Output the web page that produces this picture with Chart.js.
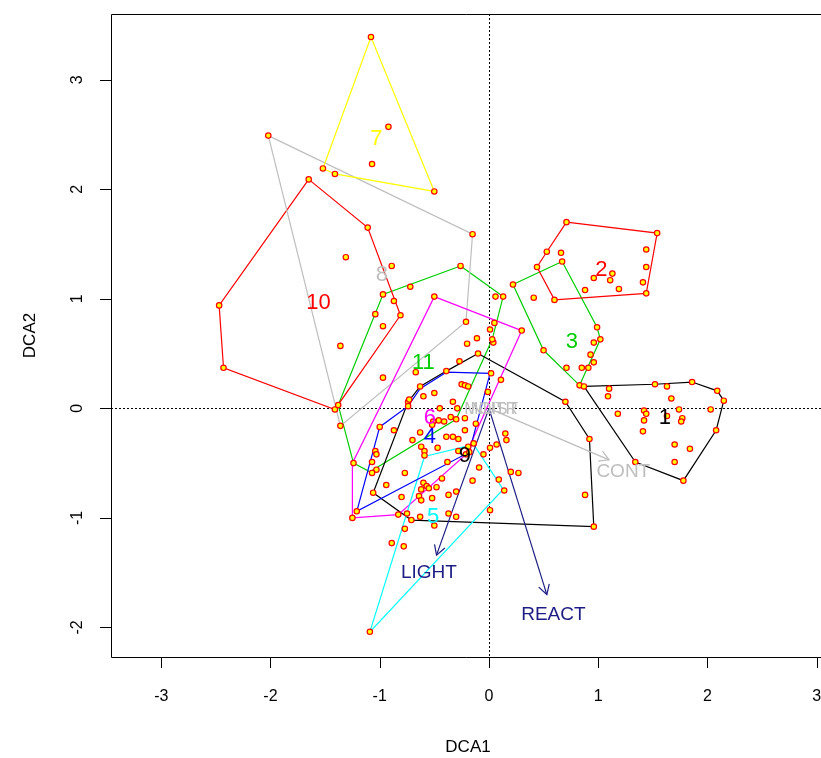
<!DOCTYPE html>
<html>
<head>
<meta charset="utf-8">
<script src="https://cdn.jsdelivr.net/npm/chart.js@4.4.1/dist/chart.umd.min.js"></script>
<style>
  html, body { margin: 0; padding: 0; background: #fff; overflow: hidden; }
</style>
</head>
<body>
<canvas id="dca" width="821" height="758"></canvas>
<script>
// --- DCA ordination: site scores, group hulls, env arrows ---

const xTicks = [-3, -2, -1, 0, 1, 2, 3];
const yTicks = [-2, -1, 0, 1, 2, 3];

// site scores (DCA1, DCA2)
const sites = [
  [-1.08,3.39],[-0.50,1.98],[-1.52,2.19],[-1.41,2.14],[-0.92,2.57],[-1.07,2.23],
  [-2.02,2.49],[-0.15,1.59],[-0.21,0.79],[-1.36,-0.16],
  [-1.65,2.09],[-1.11,1.65],[-0.81,0.85],[-1.41,-0.01],[-2.43,0.37],[-2.47,0.94],
  [-1.31,1.38],[-0.89,1.30],[-0.87,0.98],[-1.04,0.86],[-0.97,0.75],[-1.36,0.57],
  [-0.97,1.04],[-0.72,1.11],[-0.26,1.30],[0.13,1.02],
  [0.71,1.70],[1.54,1.60],[1.44,1.05],[0.60,0.99],[0.44,1.29],[0.53,1.43],[0.66,1.42],
  [1.44,1.45],[1.44,1.29],[1.41,1.15],[1.13,1.23],[1.11,1.17],[0.96,1.19],[1.19,1.09],[0.88,1.08],
  [0.67,1.34],[0.22,1.13],[0.50,0.53],[0.83,0.21],[1.02,0.63],[0.99,0.74],[0.41,1.01],
  [0.96,0.60],[0.93,0.49],[0.96,0.42],[0.91,0.37],[0.85,0.37],[0.71,0.37],
  [0.87,0.20],[1.52,0.22],[1.86,0.24],[2.09,0.16],[2.15,0.07],[2.08,-0.20],[1.78,-0.66],[1.34,-0.49],
  [1.10,0.18],[1.09,0.11],[1.63,0.20],[1.67,0.09],[1.18,-0.05],[1.42,-0.02],[1.44,-0.05],
  [1.42,-0.11],[1.41,-0.21],[1.74,-0.01],[2.03,-0.01],[1.63,-0.07],[1.77,-0.09],[1.76,-0.12],
  [1.70,-0.33],[1.84,-0.37],[1.70,-0.49],
  [-0.10,0.50],[0.70,0.06],[0.92,-0.28],[0.96,-1.08],[-0.71,-1.02],[-1.06,-0.77],
  [-0.74,0.06],[-0.63,0.20],[-0.39,0.34],[0.88,-0.79],
  [-0.67,0.33],[-0.97,0.28],[-0.11,0.64],[-0.20,0.59],[0.04,0.60],[-0.27,0.43],[0.02,0.32],
  [0.11,0.26],[-0.25,0.22],[-0.22,0.21],[-0.19,0.20],[-0.01,0.15],[-0.50,0.14],[-0.60,0.11],
  [-0.73,0.08],[-0.33,0.06],[-0.45,0.00],[-0.29,0.00],[-0.35,-0.08],[-0.30,-0.10],[-0.46,-0.11],
  [-0.41,-0.12],[-0.51,-0.12],[-0.22,-0.09],[-0.12,-0.14],[-0.22,-0.20],[-1.00,-0.17],[-0.87,-0.20],
  [-0.63,-0.22],[-0.52,-0.15],[-0.70,-0.29],[-0.62,-0.35],[-0.39,-0.26],[-0.33,-0.26],[-0.28,-0.28],
  [-0.47,-0.36],[0.15,-0.23],[0.16,-0.29],[0.01,-0.36],[0.07,-0.33],[-0.14,-0.32],[-0.59,-0.39],
  [-0.59,-0.43],[-1.04,-0.39],[-1.03,-0.42],[-1.07,-0.49],[-1.24,-0.50],[-1.03,-0.56],[-1.07,-0.59],
  [-0.77,-0.59],[-0.38,-0.49],[-0.28,-0.39],[-0.05,-0.42],[-0.09,-0.54],[0.20,-0.58],[0.27,-0.59],
  [-0.43,-0.64],[-0.15,-0.66],[0.09,-0.65],[0.14,-0.75],[-0.94,-0.70],[-0.60,-0.68],[-0.57,-0.71],
  [-0.62,-0.74],[-0.55,-0.73],[-0.48,-0.72],[-0.64,-0.80],[-0.62,-0.84],[-0.52,-0.82],[-0.37,-0.79],
  [-0.30,-0.76],[-0.80,-0.81],[-1.21,-0.94],[-1.25,-1.00],[-0.75,-0.96],[-0.63,-0.99],[-0.50,-1.07],
  [-0.37,-0.96],[-0.30,-0.99],[0.01,-0.93],[-0.77,-1.10],[-0.89,-1.23],[-0.78,-1.26],[-1.09,-2.04],
  [-0.83,-0.97],[-0.50,1.02],[0.30,0.71],[0.06,1.02],[0.05,0.78],[0.01,0.72],[-0.19,-0.35],
  [-1.38,0.03],[-0.74,0.02],[-0.21,-0.42],[-0.18,-0.40],[0.03,0.63]
];

// convex hull vertices per group
const hull1  = [[0.87,0.20],[1.52,0.22],[1.86,0.24],[2.09,0.16],[2.15,0.07],[2.08,-0.20],[1.78,-0.66],[1.34,-0.49]];
const hull2  = [[0.71,1.70],[1.54,1.60],[1.44,1.05],[0.60,0.99],[0.44,1.29],[0.53,1.43]];
const hull3  = [[0.67,1.34],[0.99,0.74],[1.02,0.63],[0.83,0.21],[0.50,0.53],[0.22,1.13]];
const hull4  = [[-0.39,0.33],[0.01,0.32],[-0.18,-0.40],[-1.21,-0.94],[-1.00,-0.17],[-0.74,0.02],[-0.63,0.18]];
const hull5  = [[-0.59,-0.44],[-0.14,-0.33],[0.13,-0.74],[-1.09,-2.04]];
const hull6  = [[-0.50,1.02],[0.30,0.71],[-0.21,-0.42],[-0.83,-0.97],[-1.25,-1.00],[-1.25,-0.50]];
const hull7  = [[-1.08,3.39],[-0.50,1.98],[-1.41,2.14],[-1.52,2.19]];
const hull8  = [[-2.02,2.49],[-0.15,1.59],[-0.21,0.79],[-1.36,-0.16]];
const hull9  = [[-0.10,0.50],[0.70,0.06],[0.92,-0.28],[0.96,-1.08],[-0.71,-1.02],[-1.06,-0.77],[-0.74,0.06],[-0.63,0.20],[-0.39,0.34]];
const hull10 = [[-1.65,2.09],[-1.11,1.65],[-0.81,0.85],[-1.41,-0.01],[-2.43,0.37],[-2.47,0.94]];
const hull11 = [[-0.26,1.30],[0.13,1.02],[0.03,0.63],[-0.30,-0.10],[-1.09,-0.58],[-1.24,-0.50],[-1.38,0.03],[-0.97,1.04]];

const groupNames  = ['1','2','3','4','5','6','7','8','9','10','11'];
const groupColors = ['#000000','#ff0000','#00cd00','#0000ff','#00ffff','#ff00ff','#ffff00','#bebebe','#000000','#ff0000','#00cd00'];
const groupLabelX = [1.61, 1.03, 0.76, -0.54, -0.51, -0.54, -1.03, -0.98, -0.22, -1.56, -0.60];
const groupLabelY = [-0.09, 1.26, 0.61, -0.26, -0.99, -0.09, 2.46, 1.22, -0.43, 0.96, 0.41];
const hulls = [hull1, hull2, hull3, hull4, hull5, hull6, hull7, hull8, hull9, hull10, hull11];

// fitted environmental vectors
const envNames  = ['LIGHT', 'REACT', 'CONT'];
const envX      = [-0.48, 0.53, 1.10];
const envY      = [-1.34, -1.70, -0.47];
const envLabelX = [-0.55, 0.59, 1.23];
const envLabelY = [-1.50, -1.88, -0.58];
const envColors = ['#1c1c84', '#1c1c84', '#bebebe'];
// overlapping short-vector labels sitting on the origin
const originNames = ['MOIST', 'NUTR'];

const FONT = '"Liberation Sans", Arial, sans-serif';

const pts = arr => arr.map(p => ({ x: p[0], y: p[1] }));

const datasets = [
  {
    label: 'sites', data: pts(sites), order: 0,
    pointRadius: 2.7, pointBorderWidth: 1.2,
    pointBorderColor: '#ff0000', pointBackgroundColor: '#ffff00', showLine: false,
  },
];
hulls.forEach((h, i) => {
  datasets.push({
    label: 'hull ' + groupNames[i], data: pts(h.concat([h[0]])), order: 2,
    showLine: true, borderColor: groupColors[i], borderWidth: 1.2, pointRadius: 0, fill: false,
  });
});
envNames.forEach((n, i) => {
  datasets.push({
    label: n, data: [{ x: 0, y: 0 }, { x: envX[i], y: envY[i] }], order: 1,
    showLine: true, borderColor: envColors[i], borderWidth: 1.2, pointRadius: 0, fill: false,
  });
});

const dcaDecor = {
  id: 'dcaDecor',
  beforeDatasetsDraw(chart) {
    const { ctx, chartArea: a, scales: { x, y } } = chart;
    ctx.save();
    ctx.strokeStyle = '#000';
    ctx.lineWidth = 1;
    ctx.setLineDash([2, 2]);
    const x0 = Math.round(x.getPixelForValue(0)) + 0.5;
    const y0 = Math.round(y.getPixelForValue(0)) + 0.5;
    ctx.beginPath();
    ctx.moveTo(x0, a.top); ctx.lineTo(x0, a.bottom);
    ctx.moveTo(a.left, y0); ctx.lineTo(a.right, y0);
    ctx.stroke();
    ctx.restore();
  },
  afterDatasetsDraw(chart) {
    const { ctx, chartArea: a, scales: { x, y } } = chart;
    ctx.save();

    // arrow heads
    envNames.forEach((n, i) => {
      const px = x.getPixelForValue(envX[i]), py = y.getPixelForValue(envY[i]);
      const ang = Math.atan2(py - y.getPixelForValue(0), px - x.getPixelForValue(0));
      const len = 11;
      ctx.strokeStyle = envColors[i];
      ctx.lineWidth = 1.2;
      ctx.beginPath();
      ctx.moveTo(px - len * Math.cos(ang - Math.PI / 6), py - len * Math.sin(ang - Math.PI / 6));
      ctx.lineTo(px, py);
      ctx.lineTo(px - len * Math.cos(ang + Math.PI / 6), py - len * Math.sin(ang + Math.PI / 6));
      ctx.stroke();
    });

    ctx.textAlign = 'center';
    ctx.textBaseline = 'middle';

    // env labels
    ctx.font = '19px ' + FONT;
    envNames.forEach((n, i) => {
      ctx.fillStyle = envColors[i];
      ctx.fillText(n, x.getPixelForValue(envLabelX[i]), y.getPixelForValue(envLabelY[i]));
    });
    ctx.fillStyle = '#bebebe';
    ctx.font = '17px ' + FONT;
    originNames.forEach((n, i) => {
      ctx.fillText(n, x.getPixelForValue(0.02) + i * 3, y.getPixelForValue(-0.01));
    });

    // group labels
    ctx.font = '22px ' + FONT;
    groupNames.forEach((n, i) => {
      ctx.fillStyle = groupColors[i];
      ctx.fillText(n, x.getPixelForValue(groupLabelX[i]), y.getPixelForValue(groupLabelY[i]));
    });

    // frame (right side runs off the page)
    ctx.strokeStyle = '#000';
    ctx.lineWidth = 1;
    ctx.beginPath();
    ctx.moveTo(a.right + 5, a.top + 0.5);
    ctx.lineTo(a.left + 0.5, a.top + 0.5);
    ctx.lineTo(a.left + 0.5, a.bottom + 0.5);
    ctx.lineTo(a.right + 5, a.bottom + 0.5);
    ctx.stroke();

    // ticks and labels
    ctx.font = '16px ' + FONT;
    ctx.fillStyle = '#000';
    ctx.beginPath();
    xTicks.forEach(t => {
      const px = Math.round(x.getPixelForValue(t)) + 0.5;
      ctx.moveTo(px, a.bottom); ctx.lineTo(px, a.bottom + 11);
    });
    yTicks.forEach(t => {
      const py = Math.round(y.getPixelForValue(t)) + 0.5;
      ctx.moveTo(a.left, py); ctx.lineTo(a.left - 11, py);
    });
    ctx.stroke();
    xTicks.forEach(t => ctx.fillText(String(t), x.getPixelForValue(t), a.bottom + 40));
    yTicks.forEach(t => {
      ctx.save();
      ctx.translate(a.left - 33, y.getPixelForValue(t));
      ctx.rotate(-Math.PI / 2);
      ctx.fillText(String(t), 0, 0);
      ctx.restore();
    });

    // axis titles
    ctx.font = '17px ' + FONT;
    ctx.fillText('DCA1', (a.left + a.right + 4) / 2, a.bottom + 90);
    ctx.save();
    ctx.translate(30, (a.top + a.bottom) / 2);
    ctx.rotate(-Math.PI / 2);
    ctx.fillText('DCA2', 0, 0);
    ctx.restore();

    ctx.restore();
  },
};

new Chart(document.getElementById('dca'), {
  type: 'scatter',
  data: { datasets },
  options: {
    responsive: false,
    animation: false,
    devicePixelRatio: 1,
    layout: { autoPadding: false, padding: { left: 111, top: 14, right: 0, bottom: 101 } },
    scales: {
      x: { type: 'linear', min: -3.46, max: 3.04, display: false },
      y: { type: 'linear', min: -2.27, max: 3.60, display: false },
    },
    plugins: { legend: { display: false }, tooltip: { enabled: false } },
  },
  plugins: [dcaDecor],
});
</script>
</body>
</html>
